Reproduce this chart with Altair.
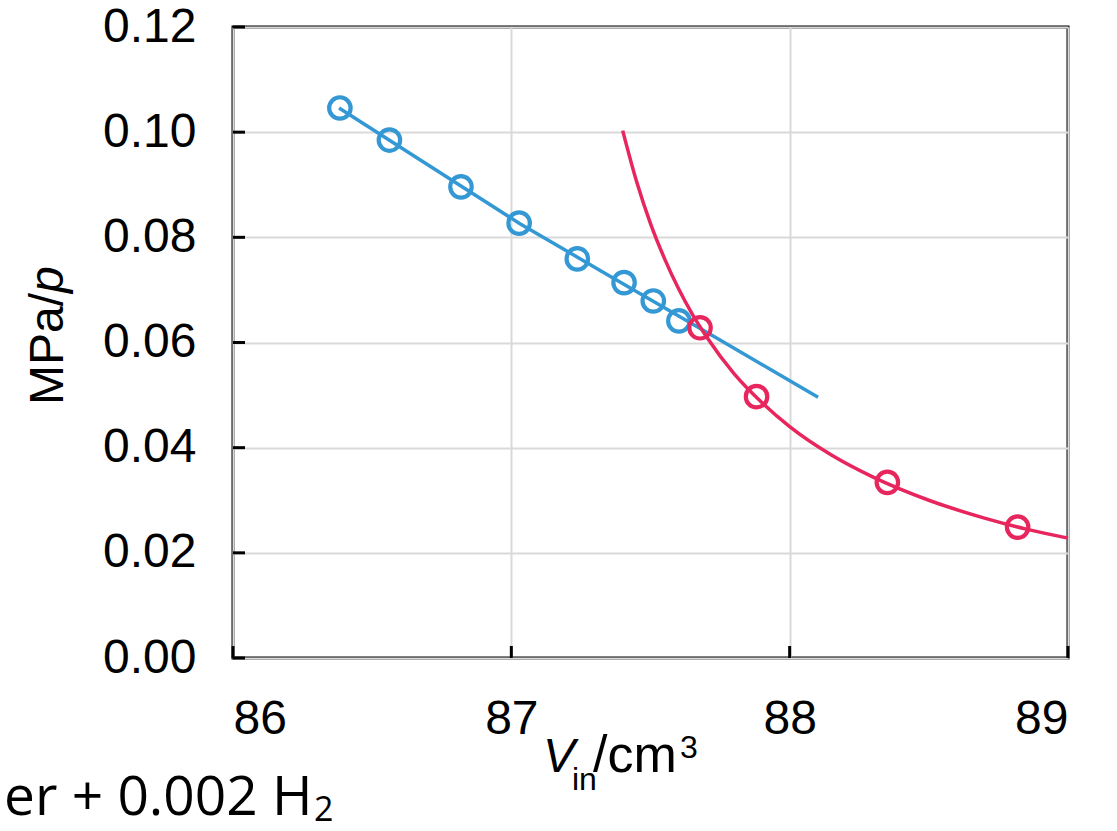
import altair as alt
import pandas as pd

# ---- data ----
blue_x = [86.384, 86.562, 86.819, 87.028, 87.237, 87.405, 87.510, 87.602]
blue_y = [0.1046, 0.0985, 0.0896, 0.0827, 0.0759, 0.0714, 0.0679, 0.0641]

blue_fit_x = [86.381, 87.028, 87.319, 87.739, 88.102]
blue_fit_y = [0.1046, 0.0827, 0.0737, 0.0608, 0.0496]

red_x = [87.678, 87.881, 88.351, 88.819]
red_y = [0.0628, 0.0497, 0.0334, 0.0249]

red_fit_x = [87.40, 87.45, 87.50, 87.55, 87.60, 87.65, 87.70, 87.80, 87.90, 88.00,
             88.15, 88.30, 88.50, 88.70, 88.85, 89.00]
red_fit_y = [0.1003, 0.0906, 0.0826, 0.0760, 0.0703, 0.0654, 0.0612, 0.0541, 0.0486, 0.0440,
             0.0386, 0.0344, 0.0300, 0.0266, 0.0245, 0.0228]

x_ticks = [86, 87, 88, 89]
y_ticks = [0.00, 0.02, 0.04, 0.06, 0.08, 0.10, 0.12]

BLUE = "#3498D4"
RED = "#E8265E"
W, H = 835, 631
LABEL_FONT = "Liberation Sans"

xs = alt.Scale(domain=[86, 89], nice=False, zero=False)
ys = alt.Scale(domain=[0, 0.12], nice=False, zero=False)

x_axis = alt.Axis(values=x_ticks, format="d", title=None, grid=True, gridColor="#d9d9d9",
                  gridWidth=2, ticks=False, tickSize=0, domain=False, labelFont=LABEL_FONT,
                  labelFontSize=48, labelColor="black", labelPadding=37)
y_axis = alt.Axis(values=y_ticks, format=".2f", title=None, grid=True, gridColor="#d9d9d9",
                  gridWidth=2, ticks=False, tickSize=0, domain=False, labelFont=LABEL_FONT,
                  labelFontSize=48, labelColor="black", labelPadding=37)

df_blue = pd.DataFrame({"x": blue_x, "y": blue_y})
df_blue_fit = pd.DataFrame({"x": blue_fit_x, "y": blue_fit_y})
df_red = pd.DataFrame({"x": red_x, "y": red_y})
df_red_fit = pd.DataFrame({"x": red_fit_x, "y": red_fit_y})
df_xt = pd.DataFrame({"x": x_ticks})
df_yt = pd.DataFrame({"y": y_ticks})

X = lambda: alt.X("x:Q", scale=xs, title=None)
Y = lambda: alt.Y("y:Q", scale=ys, title=None)

grid_layer = alt.Chart(df_blue).mark_point(opacity=0).encode(
    x=alt.X("x:Q", scale=xs, axis=x_axis),
    y=alt.Y("y:Q", scale=ys, axis=y_axis),
)

xtick_layer = alt.Chart(df_xt).mark_rule(color="black", strokeWidth=3).encode(
    x=X(), y=alt.value(H), y2=alt.value(H - 12)
)
ytick_layer = alt.Chart(df_yt).mark_rule(color="black", strokeWidth=3).encode(
    y=Y(), x=alt.value(0), x2=alt.value(12)
)

blue_line = alt.Chart(df_blue_fit).mark_line(color=BLUE, strokeWidth=3.5).encode(x=X(), y=Y())
blue_pts = alt.Chart(df_blue).mark_point(shape="circle", filled=False, color=BLUE, size=460,
                                         strokeWidth=4.2, opacity=1).encode(x=X(), y=Y())
red_line = alt.Chart(df_red_fit).mark_line(color=RED, strokeWidth=3.5,
                                           interpolate="monotone").encode(x=X(), y=Y())
red_pts = alt.Chart(df_red).mark_point(shape="circle", filled=False, color=RED, size=460,
                                       strokeWidth=4.2, opacity=1).encode(x=X(), y=Y())


def txt(s, x, y, size, style="normal", align="left", angle=0, font=LABEL_FONT, baseline="alphabetic"):
    kw = dict(font=font, fontSize=size, fontStyle=style, align=align, baseline=baseline, color="black")
    if angle:
        kw["angle"] = angle
    return alt.Chart(pd.DataFrame({"t": [s]})).mark_text(**kw).encode(
        x=alt.value(x), y=alt.value(y), text="t:N"
    )


# x-axis title: V_in/cm^3
xt_V = txt("V", 310, 745, 48, style="italic")
xt_in = txt("in", 339, 763, 32)
xt_cm = txt("/cm", 360, 745, 52)
xt_3 = txt("3", 447, 731, 32)

# y-axis title: MPa/p (rotated)
yt_main = txt("MPa/", -170, 378, 48, angle=270)
yt_p = txt("p", -170, 266, 48, style="italic", angle=270)

# cropped caption at bottom-left
cap_main = txt("er + 0.002 H", -229, 788, 55, font="Open Sans")
cap_sub = txt("2", 81, 794, 34, font="Open Sans")

chart = alt.layer(
    grid_layer, xtick_layer, ytick_layer,
    blue_line, blue_pts, red_line, red_pts,
    xt_V, xt_in, xt_cm, xt_3, yt_main, yt_p, cap_main, cap_sub,
).properties(
    width=W, height=H,
    autosize=alt.AutoSizeParams(type="none"),
    padding={"left": 233, "top": 27, "right": 49, "bottom": 173},
    background="white",
).configure_view(
    stroke="black", strokeWidth=3
)

chart.save("out.html", embed_options={"renderer": "svg", "actions": False})
